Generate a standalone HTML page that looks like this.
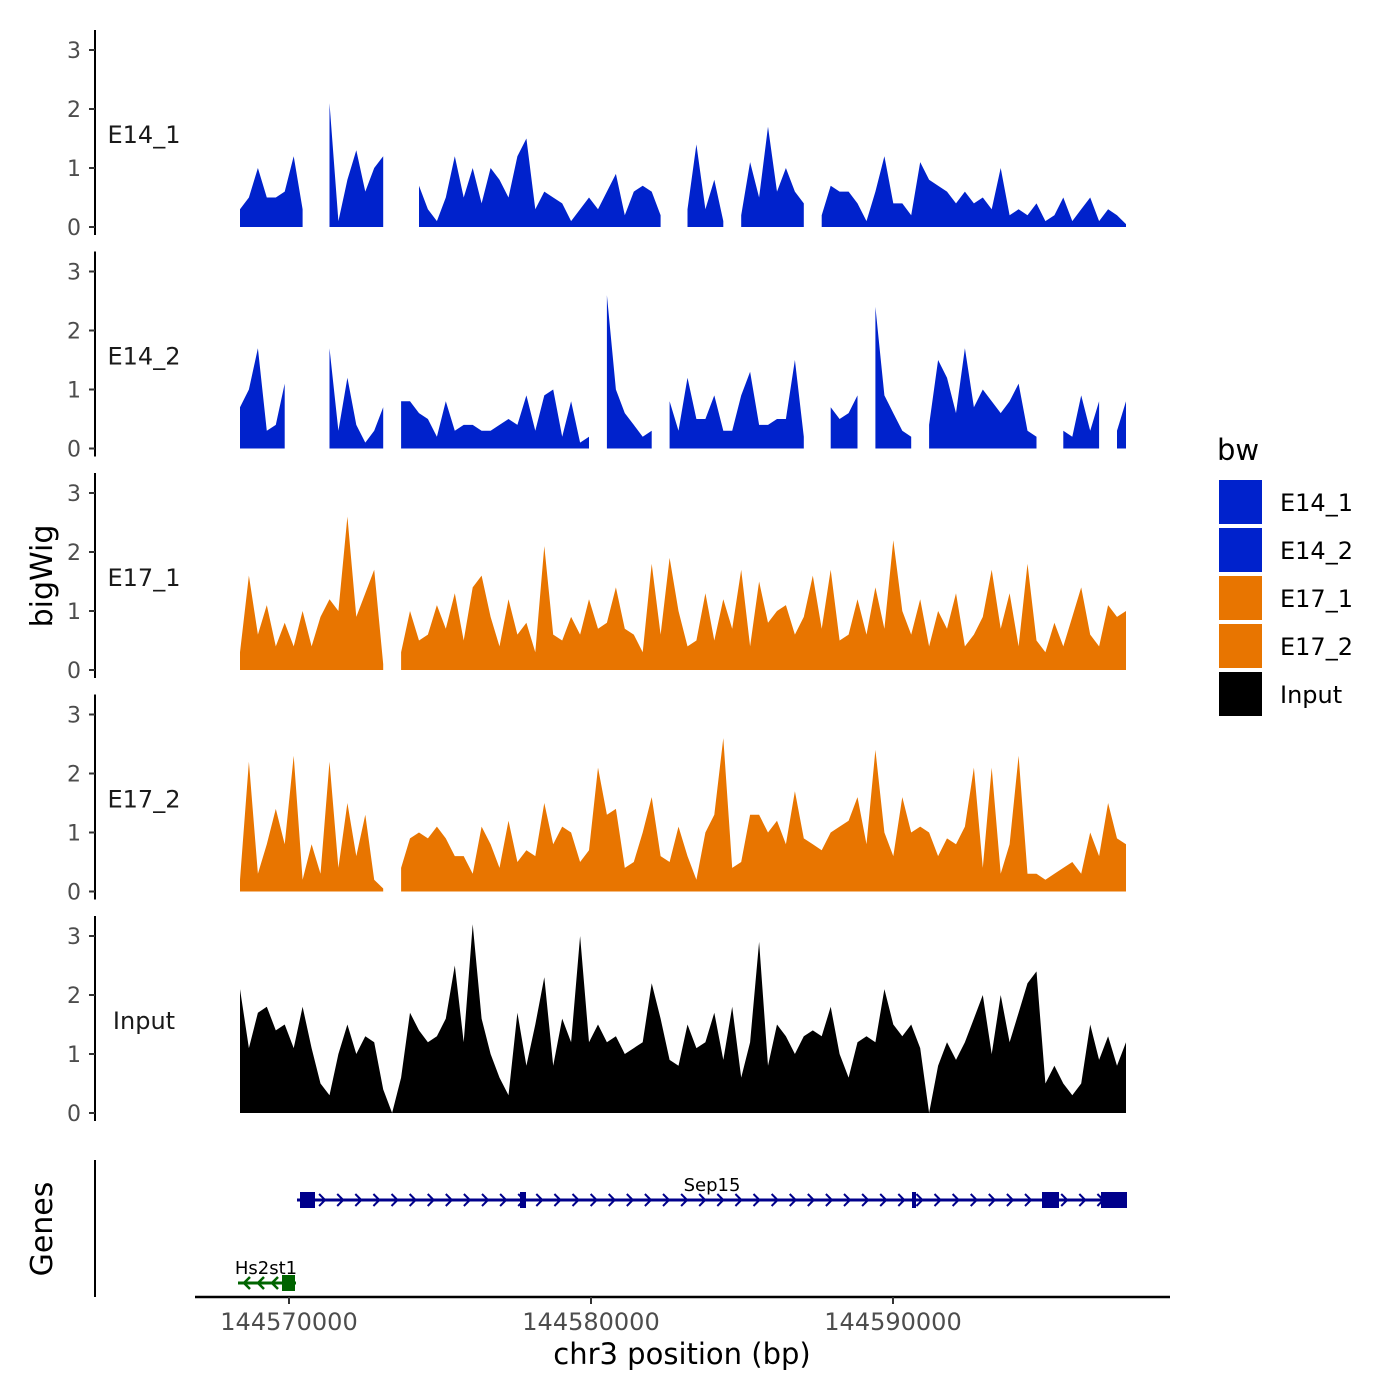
<!DOCTYPE html>
<html><head><meta charset="utf-8"><style>
html,body{margin:0;padding:0;background:#fff;}
svg{display:block;font-family:"DejaVu Sans","Liberation Sans",sans-serif;}
</style></head><body>
<svg id="chart" width="1400" height="1400" viewBox="0 0 1400 1400" xmlns="http://www.w3.org/2000/svg">
<rect width="1400" height="1400" fill="#fff"/>
<g id="tracks"></g>
<g id="genes"></g>
<text x="0" y="0" transform="translate(52,576) rotate(-90)" text-anchor="middle" font-size="30" fill="#000">bigWig</text>
<text x="0" y="0" transform="translate(52,1229) rotate(-90)" text-anchor="middle" font-size="30" fill="#000">Genes</text>
<text x="682" y="1364" text-anchor="middle" font-size="29" fill="#000">chr3 position (bp)</text>
<g id="legend">
<text x="1217" y="460" font-size="29" fill="#000">bw</text>
</g>
</svg>
<script>
const trackNames = ["E14_1","E14_2","E17_1","E17_2","Input"];
const trackColors = ["#0022CC","#0022CC","#E87500","#E87500","#000000"];
const yTicks = [0,1,2,3];
const xTicks = [144570000,144580000,144590000];
const xTickLabels = ["144570000","144580000","144590000"];
const startBp = 144568377, endBp = 144597715;
const E14_1 = [0.3,0.5,1.0,0.5,0.5,0.6,1.2,0.3,null,null,2.1,0.1,0.8,1.3,0.6,1.0,1.2,null,0.3,null,0.7,0.3,0.1,0.5,1.2,0.5,1.0,0.4,1.0,0.8,0.5,1.2,1.5,0.3,0.6,0.5,0.4,0.1,0.3,0.5,0.3,0.6,0.9,0.2,0.6,0.7,0.6,0.2,null,null,0.3,1.4,0.3,0.8,0.1,null,0.2,1.1,0.5,1.7,0.6,1.0,0.6,0.4,null,0.2,0.7,0.6,0.6,0.4,0.1,0.6,1.2,0.4,0.4,0.2,1.1,0.8,0.7,0.6,0.4,0.6,0.4,0.5,0.3,1.0,0.2,0.3,0.2,0.4,0.1,0.2,0.5,0.1,0.3,0.5,0.1,0.3,0.2,0.05];
const E14_2 = [0.7,1.0,1.7,0.3,0.4,1.1,null,null,0.4,null,1.7,0.3,1.2,0.4,0.1,0.3,0.7,null,0.8,0.8,0.6,0.5,0.2,0.8,0.3,0.4,0.4,0.3,0.3,0.4,0.5,0.4,0.9,0.3,0.9,1.0,0.2,0.8,0.1,0.2,null,2.6,1.0,0.6,0.4,0.2,0.3,null,0.8,0.3,1.2,0.5,0.5,0.9,0.3,0.3,0.9,1.3,0.4,0.4,0.5,0.5,1.5,0.2,null,null,0.7,0.5,0.6,0.9,null,2.4,0.9,0.6,0.3,0.2,null,0.4,1.5,1.2,0.6,1.7,0.7,1.0,0.8,0.6,0.8,1.1,0.3,0.2,null,null,0.3,0.2,0.9,0.3,0.8,null,0.3,0.8];
const E17_1 = [0.3,1.6,0.6,1.1,0.4,0.8,0.4,1.0,0.4,0.9,1.2,1.0,2.6,0.9,1.3,1.7,0.1,null,0.3,1.0,0.5,0.6,1.1,0.7,1.3,0.5,1.4,1.6,0.9,0.4,1.2,0.6,0.8,0.3,2.1,0.6,0.5,0.9,0.6,1.2,0.7,0.8,1.4,0.7,0.6,0.3,1.8,0.6,1.9,1.0,0.4,0.5,1.3,0.5,1.2,0.7,1.7,0.4,1.5,0.8,1.0,1.1,0.6,0.9,1.6,0.7,1.7,0.5,0.6,1.2,0.6,1.4,0.7,2.2,1.0,0.6,1.2,0.4,1.0,0.7,1.3,0.4,0.6,0.9,1.7,0.7,1.3,0.4,1.8,0.5,0.3,0.8,0.4,0.9,1.4,0.6,0.4,1.1,0.9,1.0];
const E17_2 = [0.2,2.2,0.3,0.8,1.4,0.8,2.3,0.2,0.8,0.3,2.2,0.4,1.5,0.6,1.3,0.2,0.05,null,0.4,0.9,1.0,0.9,1.1,0.9,0.6,0.6,0.3,1.1,0.8,0.4,1.2,0.5,0.7,0.6,1.5,0.8,1.1,1.0,0.5,0.7,2.1,1.3,1.4,0.4,0.5,1.0,1.6,0.6,0.5,1.1,0.6,0.2,1.0,1.3,2.6,0.4,0.5,1.3,1.3,1.0,1.2,0.8,1.7,0.9,0.8,0.7,1.0,1.1,1.2,1.6,0.8,2.4,1.0,0.6,1.6,1.0,1.1,1.0,0.6,0.9,0.8,1.1,2.1,0.4,2.1,0.3,0.8,2.3,0.3,0.3,0.2,0.3,0.4,0.5,0.3,1.0,0.6,1.5,0.9,0.8];
const Input = [2.1,1.1,1.7,1.8,1.4,1.5,1.1,1.8,1.1,0.5,0.3,1.0,1.5,1.0,1.3,1.2,0.4,0.0,0.6,1.7,1.4,1.2,1.3,1.6,2.5,1.2,3.2,1.6,1.0,0.6,0.3,1.7,0.8,1.5,2.3,0.8,1.6,1.2,3.0,1.2,1.5,1.2,1.3,1.0,1.1,1.2,2.2,1.6,0.9,0.8,1.5,1.1,1.2,1.7,0.9,1.8,0.6,1.2,2.9,0.8,1.5,1.3,1.0,1.3,1.4,1.3,1.8,1.0,0.6,1.2,1.3,1.2,2.1,1.5,1.3,1.5,1.1,0.0,0.8,1.2,0.9,1.2,1.6,2.0,1.0,2.0,1.2,1.7,2.2,2.4,0.5,0.8,0.5,0.3,0.5,1.5,0.9,1.3,0.8,1.2];
const trackData = [E14_1,E14_2,E17_1,E17_2,Input];

const NS="http://www.w3.org/2000/svg";
function mk(tag,attrs,parent){const e=document.createElementNS(NS,tag);for(const k in attrs)e.setAttribute(k,attrs[k]);parent.appendChild(e);return e;}
const px0=289, pxPer=302/10000;
function xScale(bp){return px0+(bp-144570000)*pxPer;}
const tracksG=document.getElementById('tracks');
const unit=59, baseY0=227, panelStep=221.5;
trackData.forEach((vals,ti)=>{
  const base=baseY0+ti*panelStep;
  const y=v=>base-v*unit;
  const g=mk('g',{},tracksG);
  
  
  const ax=mk('line',{x1:95,x2:95,y1:base-3*unit-20,y2:base+8,stroke:'#000','stroke-width':2},g);
  
  
  yTicks.forEach(t=>{
    const tl=mk('line',{x1:89,x2:95,y1:y(t),y2:y(t),stroke:'#333','stroke-width':2},g);
    
    
    const tx=mk('text',{x:81,y:y(t)+8,'text-anchor':'end','font-size':22,fill:'#4d4d4d'},g);
    tx.textContent=t;
    
    
  });
  const lb=mk('text',{x:144,y:base-92+8,'text-anchor':'middle','font-size':24,fill:'#1a1a1a'},g);
  lb.textContent=trackNames[ti];
  
  
  const n=vals.length, step=(endBp-startBp)/(n-1);
  let seg=[];
  const flush=()=>{
    if(seg.length){
      let d='M'+seg[0][0]+','+base;
      seg.forEach(p=>{d+='L'+p[0]+','+p[1];});
      d+='L'+seg[seg.length-1][0]+','+base+'Z';
      const p=mk('path',{d:d,fill:trackColors[ti]},g);
      
      
    }
    seg=[];
  };
  vals.forEach((v,i)=>{
    if(v===null){flush();return;}
    seg.push([xScale(startBp+i*step).toFixed(1),y(v).toFixed(1)]);
  });
  flush();
});

// genes
const gg=document.getElementById('genes');
const gax=mk('line',{x1:95,x2:95,y1:1160,y2:1297,stroke:'#000','stroke-width':2},gg);


const xax=mk('line',{x1:195,x2:1170,y1:1297,y2:1297,stroke:'#000','stroke-width':2.5},gg);


xTicks.forEach((t,i)=>{
  const tl=mk('line',{x1:xScale(t),x2:xScale(t),y1:1297,y2:1304,stroke:'#333','stroke-width':2},gg);
  
  
  const tx=mk('text',{x:xScale(t),y:1330,'text-anchor':'middle','font-size':24,fill:'#4d4d4d'},gg);
  tx.textContent=xTickLabels[i];
  
  
});
const sep=mk('g',{},gg);


const blue='#00008B';
mk('line',{x1:297,x2:1126,y1:1200,y2:1200,stroke:blue,'stroke-width':3},sep);
for(let x=305;x<1120;x+=18.1){mk('path',{d:`M${x-4},${1194}L${x+2},${1200}L${x-4},${1206}`,fill:'none',stroke:blue,'stroke-width':2},sep);}
[[300,315,16],[520,526,16],[912,916,16],[1042,1059,16],[1101,1127,16]].forEach(e=>{mk('rect',{x:e[0],y:1200-e[2]/2,width:e[1]-e[0],height:e[2],fill:blue},sep);});
const sl=mk('text',{x:712,y:1191,'text-anchor':'middle','font-size':18,fill:'#000'},sep);
sl.textContent='Sep15';


const hs=mk('g',{},gg);


const green='#006400';
mk('line',{x1:238,x2:296,y1:1283,y2:1283,stroke:green,'stroke-width':3},hs);
[246,260,274].forEach(x=>{mk('path',{d:`M${x+4},1277L${x-2},1283L${x+4},1289`,fill:'none',stroke:green,'stroke-width':2.5},hs);});
mk('rect',{x:282,y:1275,width:13,height:16,fill:green},hs);
const hl=mk('text',{x:266,y:1274,'text-anchor':'middle','font-size':18,fill:'#000'},hs);
hl.textContent='Hs2st1';



// legend
const lg=document.getElementById('legend');
trackNames.forEach((nm,i)=>{
  const yy=480+i*48;
  const r=mk('rect',{x:1219,y:yy,width:43,height:44,fill:trackColors[i]},lg);
  
  
  const t=mk('text',{x:1280,y:yy+31,'font-size':24,fill:'#000'},lg);
  t.textContent=nm;
  
  
});
</script>
</body></html>
